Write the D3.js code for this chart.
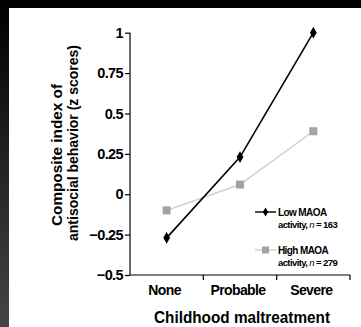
<!DOCTYPE html>
<html><head><meta charset="utf-8">
<script src="https://cdn.jsdelivr.net/npm/d3@7"></script>
<style>html,body{margin:0;padding:0;background:#fff;overflow:hidden;width:361px;height:327px;}svg{display:block;position:absolute;left:0;top:0;}</style>
</head><body>
<script>
const categories = ["None", "Probable", "Severe"];
const lowMAOA = [-0.27, 0.23, 1.0];
const highMAOA = [-0.10, 0.06, 0.39];
const yTicks = [-0.5, -0.25, 0, 0.25, 0.5, 0.75, 1];
const yTickLabels = ["\u22120.5", "\u22120.25", "0", "0.25", "0.5", "0.75", "1"];
const legendNames = ["Low MAOA", "High MAOA"];
const legendCounts = [" = 163", " = 279"];

const W = 361, H = 327;
const svg = d3.select("body").append("svg").attr("width", W).attr("height", H);
const defs = svg.append("defs");
const grad = defs.append("linearGradient").attr("id", "lg").attr("x1", 0).attr("y1", 0).attr("x2", 0).attr("y2", 1);
grad.append("stop").attr("offset", 0).attr("stop-color", "#000");
grad.append("stop").attr("offset", 1).attr("stop-color", "#454545");
svg.append("rect").attr("x", 0).attr("y", 0).attr("width", W).attr("height", 8).attr("fill", "#000");
svg.append("rect").attr("x", 0).attr("y", 0).attr("width", 9).attr("height", H).attr("fill", "url(#lg)");
svg.append("rect").attr("x", 9).attr("y", 8).attr("width", W - 9).attr("height", H - 8).attr("fill", "#fff");

const font = "'Liberation Sans', Arial, Helvetica, sans-serif";
const x = d3.scaleBand().domain(categories).range([130, 350]);
const y = d3.scaleLinear().domain([-0.5, 1]).range([275, 32.7]);

const g = svg.append("g").attr("font-family", font).attr("font-weight", "bold");

// y axis
const yAxis = d3.axisLeft(y).tickValues(yTicks).tickFormat((d, i) => yTickLabels[i]).tickSize(5).tickPadding(2);
const ya = g.append("g").attr("transform", "translate(130,0)").call(yAxis);
ya.select(".domain").attr("stroke", "#000").attr("stroke-width", 1.2).attr("d", `M0,${y(-0.5)}V${y(1)}`);
ya.selectAll(".tick line").attr("stroke", "#000").attr("stroke-width", 1.2);
ya.selectAll(".tick text").attr("font-size", 14.5).attr("font-family", font).attr("font-weight", "bold").attr("fill", "#000").attr("letter-spacing", -0.6);

// x axis
const xa = g.append("g").attr("transform", `translate(0,${y(-0.5)})`);
xa.append("path").attr("d", `M130,0H350`).attr("stroke", "#000").attr("stroke-width", 1.2);
xa.selectAll("line.tk").data(categories).enter().append("line").attr("class", "tk")
  .attr("x1", d => x(d) + x.bandwidth()).attr("x2", d => x(d) + x.bandwidth())
  .attr("y1", 0).attr("y2", 5).attr("stroke", "#000").attr("stroke-width", 1.2);
xa.selectAll("text").data(categories).enter().append("text")
  .attr("x", d => x(d) + x.bandwidth() / 2 - 2).attr("y", 20)
  .attr("text-anchor", "middle").attr("font-size", 14).attr("letter-spacing", -0.6).text(d => d);

// axis titles
g.append("text").attr("x", 242).attr("y", 323).attr("text-anchor", "middle").attr("font-size", 17)
  .attr("textLength", 176).attr("lengthAdjust", "spacingAndGlyphs").text("Childhood maltreatment");
const yt = g.append("g").attr("font-size", 15.5);
yt.append("text").attr("transform", "translate(62,155) rotate(-90)").attr("text-anchor", "middle")
  .attr("textLength", 142).attr("lengthAdjust", "spacingAndGlyphs").text("Composite index of");
yt.append("text").attr("transform", "translate(78,143) rotate(-90)").attr("text-anchor", "middle")
  .attr("textLength", 196).attr("lengthAdjust", "spacingAndGlyphs").text("antisocial behavior (z scores)");

// lines
const line = d3.line().x((d, i) => x(categories[i]) + x.bandwidth() / 2).y(d => y(d));
g.append("path").datum(highMAOA).attr("d", line).attr("fill", "none").attr("stroke", "#cfcfcf").attr("stroke-width", 1.5);
g.append("path").datum(lowMAOA).attr("d", line).attr("fill", "none").attr("stroke", "#000").attr("stroke-width", 1.6);
const sq = 8;
g.selectAll("rect.hi").data(highMAOA).enter().append("rect").attr("class", "hi")
  .attr("x", (d, i) => x(categories[i]) + x.bandwidth() / 2 - sq / 2).attr("y", d => y(d) - sq / 2)
  .attr("width", sq).attr("height", sq).attr("fill", "#a3a3a3");
const diamond = d3.symbol().type(d3.symbolDiamond).size(40);
g.selectAll("path.lo").data(lowMAOA).enter().append("path").attr("class", "lo")
  .attr("transform", (d, i) => `translate(${x(categories[i]) + x.bandwidth() / 2},${y(d)})`)
  .attr("d", diamond).attr("fill", "#000");

// legend
const legY = [212, 250];
legendNames.forEach((name, k) => {
  const ly = legY[k];
  const lg = g.append("g");
  lg.append("line").attr("x1", 255).attr("x2", 276).attr("y1", ly).attr("y2", ly)
    .attr("stroke", k === 0 ? "#000" : "#cfcfcf").attr("stroke-width", 1.4);
  if (k === 0) {
    lg.append("path").attr("transform", `translate(265.5,${ly})`).attr("d", d3.symbol().type(d3.symbolDiamond).size(24)).attr("fill", "#000");
  } else {
    lg.append("rect").attr("x", 262).attr("y", ly - 3.5).attr("width", 7).attr("height", 7).attr("fill", "#a3a3a3");
  }
  lg.append("text").attr("x", 278).attr("y", ly + 4).attr("font-size", 10).attr("letter-spacing", -0.6).text(name);
  const t2 = lg.append("text").attr("x", 278).attr("y", ly + 16).attr("font-size", 9.5).attr("letter-spacing", -0.6);
  t2.append("tspan").text("activity, ");
  t2.append("tspan").attr("font-style", "italic").attr("font-weight", "normal").text("n");
  t2.append("tspan").text(legendCounts[k]);
});
</script>
</body></html>
